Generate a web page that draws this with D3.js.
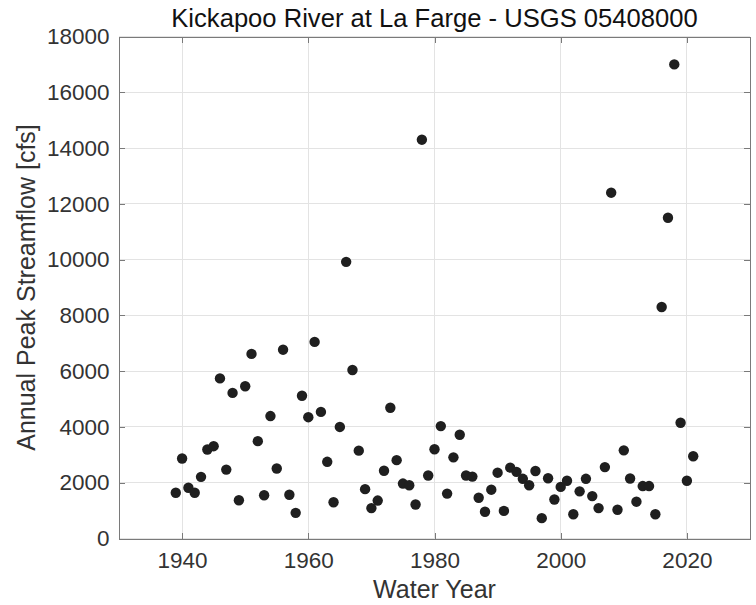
<!DOCTYPE html>
<html>
<head>
<meta charset="utf-8">
<title>Kickapoo River at La Farge</title>
<script src="https://cdn.jsdelivr.net/npm/d3@7"></script>
<style>
body {
	margin: 0;
	background: #fff;
}
text {
	font-family: "Liberation Sans", Arial, Helvetica, sans-serif;
}
.axis path, .axis line {
	stroke: #7a7a7a;
	stroke-width: 1px;
	shape-rendering: crispEdges;
}
.axis text {
	fill: #333;
	font-size: 22.5px;
}
.grid line {
	stroke: #e3e3e3;
	stroke-width: 1px;
	shape-rendering: crispEdges;
}
</style>
</head>
<body>
<svg width="756" height="605" id="chart"></svg>
<script>
// water years and annual peak streamflow (cfs)
var years = [1939, 1940, 1941, 1942, 1943, 1944, 1945, 1946, 1947, 1948,
	1949, 1950, 1951, 1952, 1953, 1954, 1955, 1956, 1957, 1958,
	1959, 1960, 1961, 1962, 1963, 1964, 1965, 1966, 1967, 1968,
	1969, 1970, 1971, 1972, 1973, 1974, 1975, 1976, 1977, 1978,
	1979, 1980, 1981, 1982, 1983, 1984, 1985, 1986, 1987, 1988,
	1989, 1990, 1991, 1992, 1993, 1994, 1995, 1996, 1997, 1998,
	1999, 2000, 2001, 2002, 2003, 2004, 2005, 2006, 2007, 2008,
	2009, 2010, 2011, 2012, 2013, 2014, 2015, 2016, 2017, 2018,
	2019, 2020, 2021];

var peaks = [1640, 2870, 1820, 1640, 2210, 3190, 3310, 5740, 2470, 5220,
	1370, 5460, 6620, 3490, 1550, 4390, 2510, 6770, 1570, 920,
	5120, 4350, 7050, 4540, 2750, 1300, 4000, 9920, 6040, 3150,
	1770, 1090, 1360, 2430, 4690, 2810, 1970, 1910, 1220, 14300,
	2260, 3200, 4030, 1610, 2910, 3720, 2260, 2220, 1460, 960,
	1750, 2360, 990, 2540, 2390, 2140, 1910, 2420, 730, 2160,
	1400, 1850, 2070, 870, 1690, 2140, 1520, 1090, 2560, 12400,
	1030, 3160, 2150, 1320, 1880, 1880, 870, 8300, 11500, 17000,
	4150, 2070, 2950];

var xTicks = [1940, 1960, 1980, 2000, 2020];
var yTicks = [0, 2000, 4000, 6000, 8000, 10000, 12000, 14000, 16000, 18000];

var svg = d3.select("#chart"),
	margin = {top: 36.5, right: 6, bottom: 66.5, left: 119},
	width = +svg.attr("width") - margin.left - margin.right,
	height = +svg.attr("height") - margin.top - margin.bottom,
	g = svg.append("g").attr("transform", "translate(" + margin.left + "," + margin.top + ")");

var x = d3.scaleLinear().domain([1930, 2030]).range([0, width]);
var y = d3.scaleLinear().domain([0, 18000]).range([height, 0]);

var data = years.map(function(yr, i) {
	return {year: yr, peak: peaks[i]};
});

// grid
g.append("g").attr("class", "grid")
	.selectAll("line.gx").data(xTicks).enter().append("line")
	.attr("x1", function(d) { return x(d); }).attr("x2", function(d) { return x(d); })
	.attr("y1", 0).attr("y2", height);
g.append("g").attr("class", "grid")
	.selectAll("line.gy").data(yTicks).enter().append("line")
	.attr("x1", 0).attr("x2", width)
	.attr("y1", function(d) { return y(d); }).attr("y2", function(d) { return y(d); });

// axes (ticks inward, box on)
g.append("g").attr("class", "axis").attr("transform", "translate(0," + height + ")")
	.call(d3.axisBottom(x).tickValues(xTicks).tickFormat(d3.format("d"))
		.tickSizeInner(-6).tickSizeOuter(0).tickPadding(14));
g.append("g").attr("class", "axis")
	.call(d3.axisLeft(y).tickValues(yTicks).tickFormat(d3.format("d"))
		.tickSizeInner(-6).tickSizeOuter(0).tickPadding(9.5));
g.append("g").attr("class", "axis")
	.call(d3.axisTop(x).tickValues(xTicks).tickFormat("")
		.tickSizeInner(-6).tickSizeOuter(0));
g.append("g").attr("class", "axis").attr("transform", "translate(" + width + ",0)")
	.call(d3.axisRight(y).tickValues(yTicks).tickFormat("")
		.tickSizeInner(-6).tickSizeOuter(0));

g.selectAll(".axis .domain").attr("fill", "none");

// points
g.append("g").selectAll("circle").data(data).enter().append("circle")
	.attr("cx", function(d) { return x(d.year); })
	.attr("cy", function(d) { return y(d.peak); })
	.attr("r", 5.2)
	.attr("fill", "#1f1f1f");

// title and labels
g.append("text").attr("x", width / 2).attr("y", -9.5)
	.attr("text-anchor", "middle").attr("fill", "#111").style("font-size", "25.6px")
	.text("Kickapoo River at La Farge - USGS 05408000");

g.append("text").attr("x", width / 2).attr("y", height + 59.5)
	.attr("text-anchor", "middle").attr("fill", "#333").style("font-size", "25px")
	.text("Water Year");

g.append("text").attr("transform", "rotate(-90)")
	.attr("x", -height / 2).attr("y", -84)
	.attr("text-anchor", "middle").attr("fill", "#333").style("font-size", "25px")
	.text("Annual Peak Streamflow [cfs]");
</script>
</body>
</html>
